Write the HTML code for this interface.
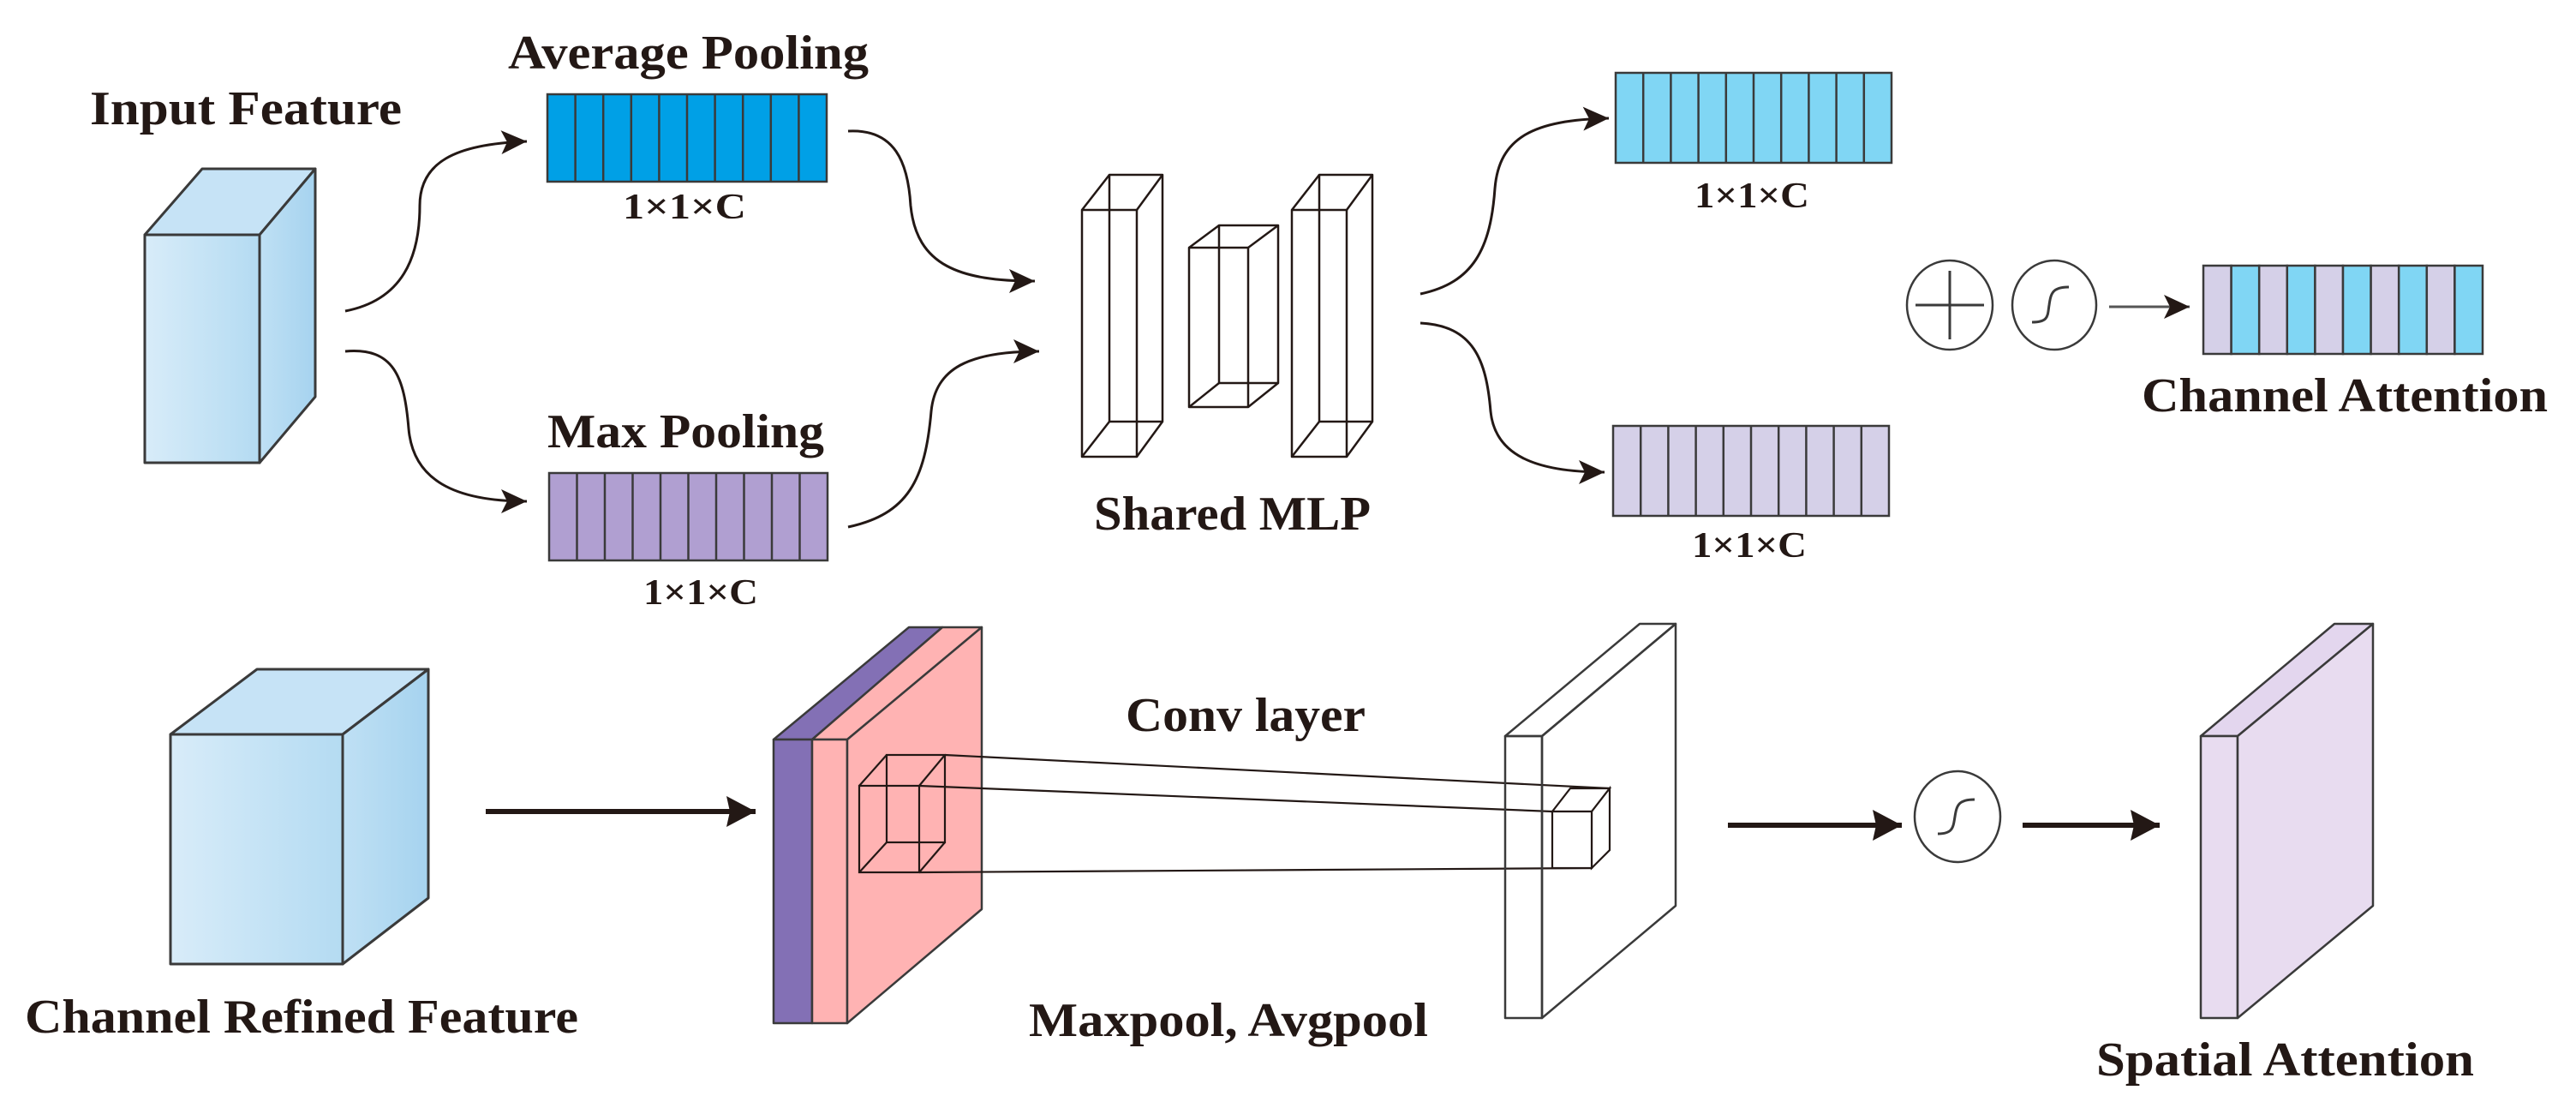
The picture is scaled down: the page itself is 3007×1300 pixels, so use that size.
<!DOCTYPE html>
<html><head><meta charset="utf-8"><style>
html,body{margin:0;padding:0;background:#fff;}
svg{display:block;}
text{font-family:"Liberation Serif",serif;font-weight:bold;fill:#231815;}
</style></head><body>
<svg width="3007" height="1300" viewBox="0 0 3007 1300" xmlns="http://www.w3.org/2000/svg">
<defs>
<marker id="ah" markerUnits="userSpaceOnUse" markerWidth="34" markerHeight="30" refX="30" refY="14" orient="auto">
<path d="M0,0 L30,14 L0,28 L7,14 Z" fill="#231815"/></marker>
<marker id="ah2" markerUnits="userSpaceOnUse" markerWidth="40" markerHeight="40" refX="34" refY="18" orient="auto">
<path d="M0,0 L34,18 L0,36 L4,18 Z" fill="#231815"/></marker>
<linearGradient id="cube" x1="0" x2="1" y1="0" y2="0"><stop offset="0" stop-color="#d8ecf9"/><stop offset="1" stop-color="#b4dbf2"/></linearGradient>
<linearGradient id="cubeS" x1="0" x2="1" y1="0" y2="0"><stop offset="0" stop-color="#bfe0f4"/><stop offset="1" stop-color="#a6d3ef"/></linearGradient>
</defs>

<g stroke="#3a3a3a" stroke-width="3" stroke-linejoin="round">
<polygon points="169,274 236,197 368,197 303,274" fill="#c6e3f6"/>
<polygon points="303,274 368,197 368,463 303,540" fill="url(#cubeS)"/>
<rect x="169" y="274" width="134" height="266" fill="url(#cube)"/>
</g>
<text x="105" y="145" font-size="56" textLength="364" lengthAdjust="spacingAndGlyphs">Input Feature</text>

<g fill="none" stroke="#231815" stroke-width="3">
<path d="M403,363 C470,350 490,300 490,240 C490,190 530,168 615,165" marker-end="url(#ah)"/>
<path d="M403,410 C460,405 472,440 477,500 C482,560 530,585 615,585" marker-end="url(#ah)"/>
<path d="M990,153 C1045,150 1060,190 1063,240 C1070,310 1120,328 1208,328" marker-end="url(#ah)"/>
<path d="M990,615 C1060,600 1080,560 1087,480 C1092,430 1130,410 1213,410" marker-end="url(#ah)"/>
<path d="M1658,343 C1720,330 1740,290 1745,220 C1750,160 1790,140 1878,138" marker-end="url(#ah)"/>
<path d="M1658,377 C1720,380 1735,420 1740,480 C1745,530 1790,551 1873,551" marker-end="url(#ah)"/>
</g>

<text x="593" y="80" font-size="56" textLength="421" lengthAdjust="spacingAndGlyphs">Average Pooling</text>
<g stroke="#3a3a3a" stroke-width="2.5">
<rect x="639" y="110" width="326" height="102" fill="#00a0e6"/>
<path d="M671.6,110V212M704.2,110V212M736.8,110V212M769.4,110V212M802,110V212M834.6,110V212M867.2,110V212M899.8,110V212M932.4,110V212"/>
</g>
<text x="727" y="255" font-size="42" textLength="144" lengthAdjust="spacingAndGlyphs">1×1×C</text>

<text x="639" y="522" font-size="56" textLength="323" lengthAdjust="spacingAndGlyphs">Max Pooling</text>
<g stroke="#3a3a3a" stroke-width="2.5">
<rect x="641" y="552" width="325" height="102" fill="#b09fd1"/>
<path d="M673.5,552V654M706,552V654M738.5,552V654M771,552V654M803.5,552V654M836,552V654M868.5,552V654M901,552V654M933.5,552V654"/>
</g>
<text x="751" y="705" font-size="42" textLength="134" lengthAdjust="spacingAndGlyphs">1×1×C</text>

<g fill="none" stroke="#231815" stroke-width="2.5" stroke-linejoin="round">
<rect x="1263" y="245" width="64" height="288"/><rect x="1295" y="204" width="62" height="288"/>
<path d="M1263,245L1295,204M1327,245L1357,204M1263,533L1295,492M1327,533L1357,492"/>
<rect x="1388" y="289" width="69" height="186"/><rect x="1423" y="263" width="69" height="184"/>
<path d="M1388,289L1423,263M1457,289L1492,263M1388,475L1423,447M1457,475L1492,447"/>
<rect x="1508" y="245" width="64" height="288"/><rect x="1540" y="204" width="62" height="288"/>
<path d="M1508,245L1540,204M1572,245L1602,204M1508,533L1540,492M1572,533L1602,492"/>
</g>
<text x="1277" y="618" font-size="56" textLength="323" lengthAdjust="spacingAndGlyphs">Shared MLP</text>

<g stroke="#3a3a3a" stroke-width="2.5">
<rect x="1886" y="85" width="322" height="105" fill="#80d6f4"/>
<path d="M1918.2,85V190M1950.4,85V190M1982.6,85V190M2014.8,85V190M2047,85V190M2079.2,85V190M2111.4,85V190M2143.6,85V190M2175.8,85V190"/>
<rect x="1883" y="497" width="322" height="105" fill="#d5d0e8"/>
<path d="M1915.2,497V602M1947.4,497V602M1979.6,497V602M2011.8,497V602M2044,497V602M2076.2,497V602M2108.4,497V602M2140.6,497V602M2172.8,497V602"/>
</g>
<text x="1978" y="242" font-size="42" textLength="134" lengthAdjust="spacingAndGlyphs">1×1×C</text>
<text x="1975" y="650" font-size="42" textLength="134" lengthAdjust="spacingAndGlyphs">1×1×C</text>

<g fill="none" stroke="#3a3a3a" stroke-width="2.5">
<ellipse cx="2276" cy="356" rx="50" ry="52"/>
<path d="M2236,356H2316M2276,316V396" stroke-width="3"/>
<ellipse cx="2398" cy="356" rx="49" ry="52"/>
<path d="M2372,376 C2392,376 2390,368 2392,356 C2394,342 2396,335 2415,335" stroke-width="3"/>
</g>
<line x1="2462" y1="358" x2="2556" y2="358" stroke="#555" stroke-width="3" marker-end="url(#ah)"/>

<g stroke="#3a3a3a" stroke-width="2.5">
<rect x="2572" y="310" width="32.6" height="103" fill="#d5d0e8"/>
<rect x="2604.6" y="310" width="32.6" height="103" fill="#80d6f4"/>
<rect x="2637.2" y="310" width="32.6" height="103" fill="#d5d0e8"/>
<rect x="2669.8" y="310" width="32.6" height="103" fill="#80d6f4"/>
<rect x="2702.4" y="310" width="32.6" height="103" fill="#d5d0e8"/>
<rect x="2735" y="310" width="32.6" height="103" fill="#80d6f4"/>
<rect x="2767.6" y="310" width="32.6" height="103" fill="#d5d0e8"/>
<rect x="2800.2" y="310" width="32.6" height="103" fill="#80d6f4"/>
<rect x="2832.8" y="310" width="32.6" height="103" fill="#d5d0e8"/>
<rect x="2865.4" y="310" width="32.6" height="103" fill="#80d6f4"/>
</g>
<text x="2500" y="480" font-size="56" textLength="474" lengthAdjust="spacingAndGlyphs">Channel Attention</text>

<g stroke="#3a3a3a" stroke-width="3" stroke-linejoin="round">
<polygon points="199,857 300,781 500,781 400,857" fill="#c6e3f6"/>
<polygon points="400,857 500,781 500,1048 400,1125" fill="url(#cubeS)"/>
<rect x="199" y="857" width="201" height="268" fill="url(#cube)"/>
</g>
<text x="29" y="1205" font-size="56" textLength="646" lengthAdjust="spacingAndGlyphs">Channel Refined Feature</text>
<line x1="567" y1="947" x2="882" y2="947" stroke="#231815" stroke-width="6" marker-end="url(#ah2)"/>

<g stroke="#3a3a3a" stroke-width="2.5" stroke-linejoin="round">
<polygon points="903,863 1061,732 1100,732 948,863" fill="#8370b5"/>
<rect x="903" y="863" width="45" height="331" fill="#8370b5"/>
<polygon points="948,863 1100,732 1146,732 989,863" fill="#ffb3b3"/>
<rect x="948" y="863" width="41" height="331" fill="#ffb3b3"/>
<polygon points="989,863 1146,732 1146,1061 989,1194" fill="#ffb3b3"/>
</g>
<g fill="none" stroke="#231815" stroke-width="2.2">
<rect x="1035" y="881" width="68" height="102"/>
<rect x="1003" y="917" width="70" height="101"/>
<path d="M1003,917L1035,881M1073,917L1103,881M1003,1018L1035,983M1073,1018L1103,983"/>
<path d="M1103,881L1879,920M1073,917L1812,947M1073,1018L1858,1013"/>
</g>
<text x="1314" y="853" font-size="56" textLength="280" lengthAdjust="spacingAndGlyphs">Conv layer</text>
<text x="1201" y="1209" font-size="56" textLength="466" lengthAdjust="spacingAndGlyphs">Maxpool, Avgpool</text>

<g fill="none" stroke="#3a3a3a" stroke-width="2.5" stroke-linejoin="round">
<polygon points="1757,859 1914,728 1956,728 1800,859" fill="#fff"/>
<rect x="1757" y="859" width="43" height="329" fill="none"/>
<polygon points="1800,859 1956,728 1956,1057 1800,1188" fill="none"/>
</g>
<g fill="#fff" stroke="#231815" stroke-width="2.2">
<polygon points="1812,947 1833,920 1879,920 1858,947"/>
<polygon points="1858,947 1879,920 1879,992 1858,1013"/>
<rect x="1812" y="947" width="46" height="66"/>
</g>

<line x1="2017" y1="963" x2="2220" y2="963" stroke="#231815" stroke-width="6" marker-end="url(#ah2)"/>
<g fill="none" stroke="#3a3a3a" stroke-width="2.5">
<ellipse cx="2285" cy="953" rx="50" ry="53"/>
<path d="M2262,973 C2280,973 2280,965 2282,953 C2284,940 2286,933 2305,933" stroke-width="3"/>
</g>
<line x1="2361" y1="963" x2="2521" y2="963" stroke="#231815" stroke-width="6" marker-end="url(#ah2)"/>

<g stroke="#3a3a3a" stroke-width="2.5" stroke-linejoin="round">
<polygon points="2569,859 2725,728 2770,728 2612,859" fill="#e3d6ee"/>
<rect x="2569" y="859" width="43" height="329" fill="#e8dcf0"/>
<polygon points="2612,859 2770,728 2770,1057 2612,1188" fill="#e8dcf0"/>
</g>
<text x="2447" y="1255" font-size="56" textLength="441" lengthAdjust="spacingAndGlyphs">Spatial Attention</text>
</svg>
</body></html>
